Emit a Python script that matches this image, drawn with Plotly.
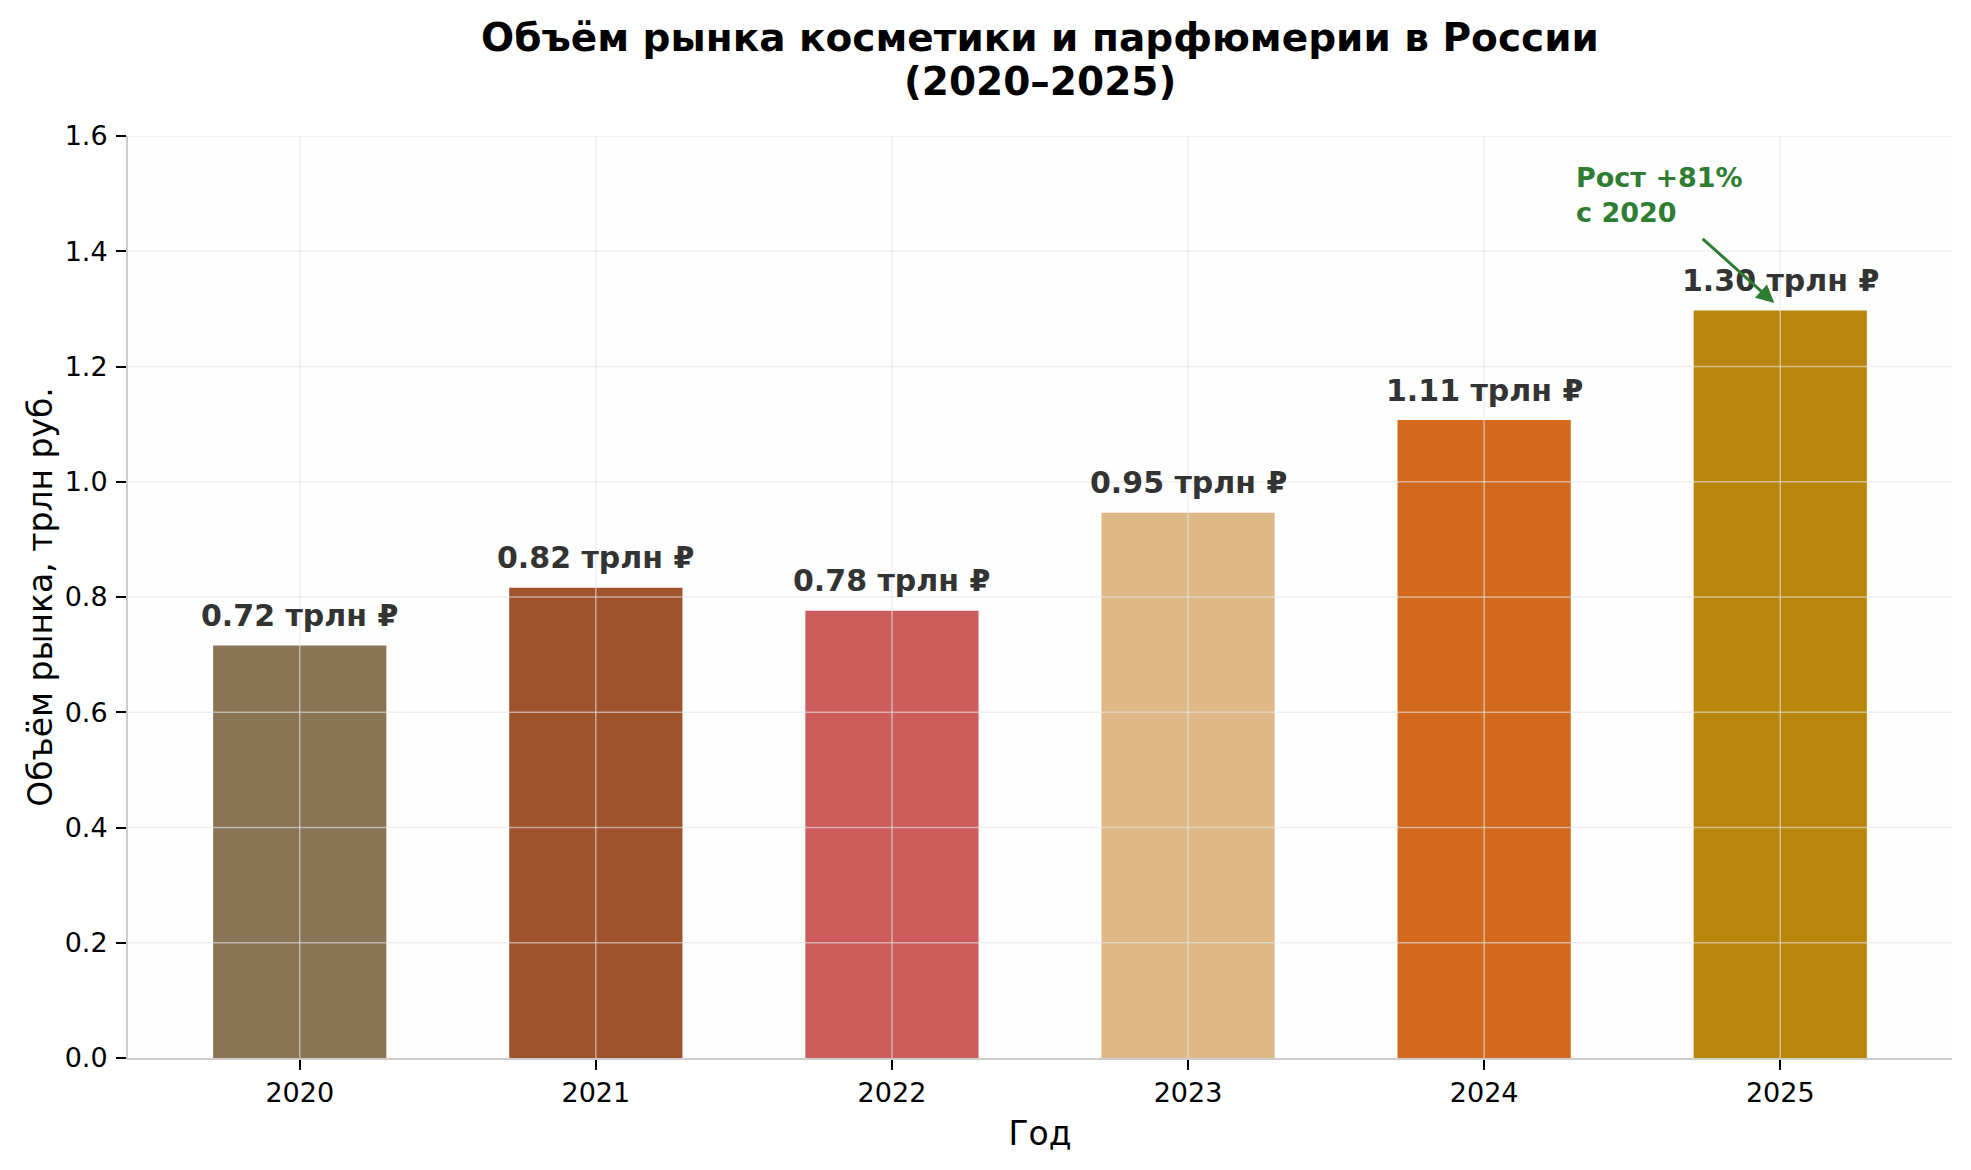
import plotly.graph_objects as go

years = ["2020", "2021", "2022", "2023", "2024", "2025"]
market_trln = [0.716, 0.816, 0.776, 0.946, 1.107, 1.297]
bar_colors = ["#8B7355", "#A0522D", "#CD5C5C", "#DEB887", "#D2691E", "#B8860B"]
y_ticks = [0.0, 0.2, 0.4, 0.6, 0.8, 1.0, 1.2, 1.4, 1.6]

title_line1 = "Объём рынка косметики и парфюмерии в России"
title_line2 = "(2020–2025)"
growth_pct = round((market_trln[-1] / market_trln[0] - 1) * 100)

FONT = "DejaVu Sans"
GRID = "rgba(228,228,228,0.6)"

fig = go.Figure()
fig.add_trace(go.Bar(
    x=list(range(len(years))),
    y=market_trln,
    width=0.585,
    marker=dict(color=bar_colors, line=dict(width=0)),
    hoverinfo="skip",
))

annotations = []
for i, v in enumerate(market_trln):
    annotations.append(dict(
        x=i, y=v, xref="x", yref="y",
        text=f"<b>{v:.2f} трлн ₽</b>",
        showarrow=False, yanchor="middle", yshift=30,
        font=dict(family=FONT, size=30, color="#333333"),
    ))

# title lines
annotations.append(dict(
    x=0.5, y=1.107, xref="paper", yref="paper",
    text=f"<b>{title_line1}</b>", showarrow=False, yanchor="middle",
    font=dict(family=FONT, size=39, color="#000000"),
))
annotations.append(dict(
    x=0.5, y=1.059, xref="paper", yref="paper",
    text=f"<b>{title_line2}</b>", showarrow=False, yanchor="middle",
    font=dict(family=FONT, size=39, color="#000000"),
))

# growth annotation text
annotations.append(dict(
    x=4.304, y=1.497, xref="x", yref="y",
    text=f"<b>Рост +{growth_pct}%<br>с 2020</b>",
    showarrow=False, xanchor="left", yanchor="middle", align="left",
    font=dict(family=FONT, size=27, color="#2E7D32"),
))
# arrow
annotations.append(dict(
    x=4.98, y=1.31, xref="x", yref="y",
    ax=4.733, ay=1.424, axref="x", ayref="y",
    text="", showarrow=True, arrowhead=2, arrowsize=1.2, arrowwidth=3,
    arrowcolor="#2E7D32", standoff=0, startstandoff=0,
))

# gridlines drawn above the bars (as in the reference)
shapes = []
for i in range(len(years)):
    shapes.append(dict(type="line", xref="x", yref="paper", x0=i, x1=i, y0=0, y1=1,
                       line=dict(color=GRID, width=1.5), layer="above"))
for t in y_ticks[1:]:
    shapes.append(dict(type="line", xref="paper", yref="y", x0=0, x1=1, y0=t, y1=t,
                       line=dict(color=GRID, width=1.5), layer="above"))

fig.update_layout(
    width=1971, height=1170,
    margin=dict(l=128, r=19, t=136, b=112),
    paper_bgcolor="#FFFFFF",
    plot_bgcolor="#FEFEFE",
    showlegend=False,
    font=dict(family=FONT, color="#000000"),
    annotations=annotations,
    shapes=shapes,
)

fig.update_xaxes(
    range=[-0.58, 5.58],
    tickmode="array", tickvals=list(range(len(years))), ticktext=years,
    tickfont=dict(family=FONT, size=27, color="#000000"),
    ticks="outside", ticklen=10, tickwidth=1.5, tickcolor="#000000",
    ticklabelstandoff=0,
    showline=True, linecolor="#CCCCCC", linewidth=2,
    showgrid=False,
    layer="above traces",
    zeroline=False,
    title=dict(text="Год", font=dict(family=FONT, size=33, color="#000000"), standoff=14),
)
fig.update_yaxes(
    range=[0, 1.6],
    tickmode="array", tickvals=y_ticks, ticktext=[f"{t:.1f}" for t in y_ticks],
    tickfont=dict(family=FONT, size=27, color="#000000"),
    ticks="outside", ticklen=10, tickwidth=1.5, tickcolor="#000000",
    ticklabelstandoff=3,
    showline=True, linecolor="#CCCCCC", linewidth=2,
    showgrid=False,
    layer="above traces",
    zeroline=False,
    title=dict(text="Объём рынка, трлн руб.", font=dict(family=FONT, size=33, color="#000000"), standoff=2),
)

fig.write_html("out.html")
